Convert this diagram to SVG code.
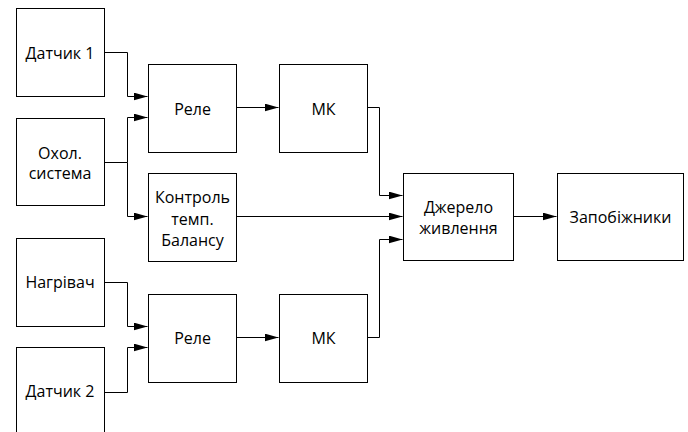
<svg xmlns="http://www.w3.org/2000/svg" width="688" height="432" viewBox="0 0 688 432">
<style>
.box{fill:#fff;stroke:#000;stroke-width:1}
.t{font-family:"Open Sans","Liberation Sans",sans-serif;font-size:16px;fill:#000;text-anchor:middle}
.c{fill:none;stroke:#000;stroke-width:1}
</style>
<defs>
<marker id="ah" markerWidth="14" markerHeight="8" refX="14" refY="4" orient="auto" markerUnits="userSpaceOnUse">
<path d="M0,0 L14,4 L0,8 Z" fill="#000"/>
</marker>
</defs>
<rect width="688" height="432" fill="#fff"/>
<g id="connectors">
<path class="c" d="M104.5,52.5 H127.5 V96.5 H147.5" marker-end="url(#ah)"/>
<path class="c" d="M104.5,162.5 H127.5 V117.5 H147.5" marker-end="url(#ah)"/>
<path class="c" d="M127.5,162.5 V216.5 H147.5" marker-end="url(#ah)"/>
<path class="c" d="M236.5,107.5 H278.5" marker-end="url(#ah)"/>
<path class="c" d="M104.5,282.5 H127.5 V326.5 H147.5" marker-end="url(#ah)"/>
<path class="c" d="M104.5,392.5 H127.5 V347.5 H147.5" marker-end="url(#ah)"/>
<path class="c" d="M236.5,337.5 H278.5" marker-end="url(#ah)"/>
<path class="c" d="M367.5,107.5 H379.5 V195.5 H402.5" marker-end="url(#ah)"/>
<path class="c" d="M236.5,216.5 H402.5" marker-end="url(#ah)"/>
<path class="c" d="M367.5,337.5 H379.5 V239.5 H402.5" marker-end="url(#ah)"/>
<path class="c" d="M513.5,216.5 H556.5" marker-end="url(#ah)"/>
</g>
<g id="datchyk1"><rect class="box" x="16.5" y="8.5" width="88" height="88"/><text class="t" x="60" y="58.5">Датчик 1</text></g>
<g id="okhol"><rect class="box" x="16.5" y="118.5" width="88" height="87"/><text class="t" x="60" y="159">Охол.</text><text class="t" x="60" y="179">система</text></g>
<g id="nagrivach"><rect class="box" x="16.5" y="238.5" width="88" height="88"/><text class="t" x="60" y="288">Нагрівач</text></g>
<g id="datchyk2"><rect class="box" x="16.5" y="347.5" width="88" height="100"/><text class="t" x="60" y="397">Датчик 2</text></g>
<g id="rele1"><rect class="box" x="148.5" y="64.5" width="88" height="88"/><text class="t" x="192.5" y="114.5">Реле</text></g>
<g id="kontrol"><rect class="box" x="148.5" y="173.5" width="88" height="88"/><text class="t" x="192.5" y="203">Контроль</text><text class="t" x="192.5" y="225">темп.</text><text class="t" x="192.5" y="246">Балансу</text></g>
<g id="rele2"><rect class="box" x="148.5" y="294.5" width="88" height="88"/><text class="t" x="192.5" y="344">Реле</text></g>
<g id="mk1"><rect class="box" x="279.5" y="64.5" width="88" height="88"/><text class="t" x="323.5" y="114.5">МК</text></g>
<g id="mk2"><rect class="box" x="279.5" y="294.5" width="88" height="88"/><text class="t" x="323.5" y="344">МК</text></g>
<g id="dzherelo"><rect class="box" x="403.5" y="173.5" width="110" height="87"/><text class="t" x="458.5" y="213">Джерело</text><text class="t" x="458.5" y="234">живлення</text></g>
<g id="zapobizhnyky"><rect class="box" x="557.5" y="173.5" width="126" height="87"/><text class="t" x="620.5" y="223">Запобіжники</text></g>
</svg>
